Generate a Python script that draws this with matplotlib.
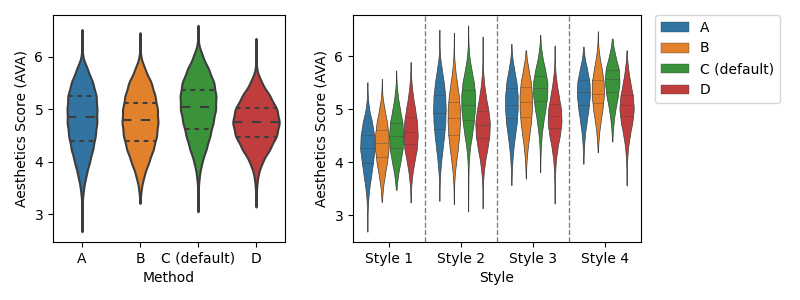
import numpy as np
import matplotlib
matplotlib.use("Agg")
import matplotlib.pyplot as plt
from matplotlib.patches import Rectangle

# ---------------- data ----------------
methods = ["A", "B", "C (default)", "D"]
styles = ["Style 1", "Style 2", "Style 3", "Style 4"]
colors = ["#3274a1", "#e1812c", "#3a923a", "#c03d3e"]

# score levels at which the violin density profiles were read
score_grid = [2.75, 3.0, 3.25, 3.5, 3.75, 4.0, 4.25, 4.5, 4.75, 5.0, 5.25, 5.5, 5.75, 6.0, 6.25, 6.5]

# ---- left panel: score distribution per method ----
method_density = {
    "A":           [0.05, 0.1, 0.3, 1.5, 4.0, 7.2, 10.5, 12.8, 14.3, 14.3, 13.8, 10.5, 5.5, 0.5, 0, 0],
    "B":           [0, 0, 0.1, 1.2, 4.0, 8.5, 13.0, 16.0, 17.3, 16.8, 14.5, 11.0, 5.0, 0.5, 0, 0],
    "C (default)": [0, 0.05, 0.1, 0.3, 1.3, 3.8, 8.0, 11.5, 14.5, 17.0, 17.3, 15.5, 10.5, 4.5, 0.3, 0],
    "D":           [0, 0, 0.1, 0.5, 1.8, 6.0, 13.5, 20.0, 22.7, 20.3, 13.5, 5.5, 0.5, 0, 0, 0],
}
method_range = {"A": (2.67, 6.52), "B": (3.21, 6.46), "C (default)": (3.05, 6.60), "D": (3.14, 6.35)}
method_quartiles = {"A": (4.39, 4.85, 5.25), "B": (4.40, 4.80, 5.13),
                    "C (default)": (4.63, 5.04, 5.37), "D": (4.48, 4.75, 5.02)}

# ---- right panel: score distribution per style and method ----
style1_density = {
    "A":           [0.05, 0.15, 0.6, 1.7, 3.6, 5.3, 7.0, 6.5, 4.5, 1.5, 0.3, 0, 0, 0, 0, 0],
    "B":           [0, 0, 0.1, 1.0, 2.8, 5.0, 6.5, 6.5, 5.0, 2.5, 0.5, 0, 0, 0, 0, 0],
    "C (default)": [0, 0, 0, 0.3, 1.6, 4.0, 6.2, 6.8, 6.0, 3.5, 1.5, 0.3, 0, 0, 0, 0],
    "D":           [0, 0, 0.05, 0.4, 1.5, 3.5, 6.0, 6.8, 6.2, 4.3, 2.2, 0.8, 0.2, 0, 0, 0],
}
style2_density = {
    "A":           [0, 0, 0.05, 0.2, 0.6, 1.6, 3.0, 4.5, 5.6, 6.0, 5.6, 4.2, 2.3, 0.5, 0.1, 0],
    "B":           [0, 0, 0.05, 0.2, 0.8, 2.2, 3.8, 5.2, 5.9, 5.8, 4.8, 3.0, 1.3, 0.3, 0.05, 0],
    "C (default)": [0, 0, 0.05, 0.15, 0.25, 0.5, 1.5, 3.5, 5.2, 6.5, 6.7, 5.5, 3.0, 1.0, 0.2, 0],
    "D":           [0, 0, 0.05, 0.2, 0.8, 2.2, 4.5, 6.5, 7.0, 5.3, 3.0, 1.3, 0.4, 0.1, 0, 0],
}
style3_density = {
    "A":           [0, 0, 0, 0.05, 0.3, 0.8, 1.8, 3.3, 5.0, 5.8, 5.8, 4.8, 2.5, 0.6, 0, 0],
    "B":           [0, 0, 0, 0, 0.1, 0.6, 1.6, 3.2, 4.8, 5.7, 5.8, 4.8, 2.5, 0.5, 0, 0],
    "C (default)": [0, 0, 0, 0, 0.05, 0.15, 0.5, 1.3, 2.8, 4.8, 6.5, 6.8, 4.5, 1.8, 0.3, 0],
    "D":           [0, 0, 0.05, 0.15, 0.4, 1.0, 2.5, 4.8, 6.5, 6.0, 3.8, 1.8, 0.5, 0.1, 0, 0],
}
style4_density = {
    "A":           [0, 0, 0, 0, 0, 0.1, 0.5, 1.3, 3.0, 4.8, 6.2, 6.0, 3.5, 0.8, 0, 0],
    "B":           [0, 0, 0, 0, 0, 0, 0.2, 1.0, 2.5, 4.5, 5.8, 5.8, 3.8, 1.5, 0.2, 0],
    "C (default)": [0, 0, 0, 0, 0, 0, 0.05, 0.3, 1.3, 3.0, 5.5, 7.0, 6.5, 3.0, 0.5, 0],
    "D":           [0, 0, 0, 0, 0.1, 0.4, 1.2, 3.0, 5.5, 7.0, 6.0, 3.5, 1.5, 0.3, 0, 0],
}
style_density = [style1_density, style2_density, style3_density, style4_density]

style1_range = {"A": (2.69, 5.51), "B": (3.25, 5.57), "C (default)": (3.48, 5.73), "D": (3.24, 5.89)}
style2_range = {"A": (3.27, 6.50), "B": (3.21, 6.44), "C (default)": (3.07, 6.58), "D": (3.13, 6.37)}
style3_range = {"A": (3.57, 6.23), "B": (3.69, 6.11), "C (default)": (3.81, 6.40), "D": (3.22, 6.20)}
style4_range = {"A": (3.97, 6.18), "B": (4.19, 6.47), "C (default)": (4.39, 6.33), "D": (3.56, 6.11)}
style_range = [style1_range, style2_range, style3_range, style4_range]

style1_quartiles = {"A": (3.98, 4.27, 4.52), "B": (4.10, 4.36, 4.61), "C (default)": (4.26, 4.49, 4.74), "D": (4.34, 4.57, 4.86)}
style2_quartiles = {"A": (4.63, 4.93, 5.27), "B": (4.52, 4.83, 5.14), "C (default)": (4.80, 5.07, 5.36), "D": (4.46, 4.71, 4.97)}
style3_quartiles = {"A": (4.84, 5.07, 5.39), "B": (4.85, 5.14, 5.41), "C (default)": (5.16, 5.39, 5.62), "D": (4.65, 4.88, 5.10)}
style4_quartiles = {"A": (5.07, 5.33, 5.55), "B": (5.12, 5.29, 5.55), "C (default)": (5.33, 5.57, 5.73), "D": (4.87, 5.08, 5.27)}
style_quartiles = [style1_quartiles, style2_quartiles, style3_quartiles, style4_quartiles]

# ---------------- helpers ----------------
GRAY = "#3d3d3d"
BW = 0.13


def profile(density, lo, hi, n=200):
    g = np.asarray(score_grid)
    w = np.asarray(density, dtype=float)
    y = np.linspace(lo, hi, n)
    f = (w[None, :] * np.exp(-0.5 * ((y[:, None] - g[None, :]) / BW) ** 2)).sum(axis=1)
    return y, f


def draw_violin(ax, center, y, half, color, quartiles, lw):
    ax.fill_betweenx(y, center - half, center + half, facecolor=color,
                     edgecolor=GRAY, linewidth=lw, zorder=2)
    dash_q = [lw * 1.5] * 2
    dash_m = [lw * 3] * 2
    for q, d in zip(quartiles, [dash_q, dash_m, dash_q]):
        idx = np.argmin(np.abs(y - q))
        wdt = half[idx] * 0.99
        ax.plot([center - wdt, center + wdt], [q, q], color=GRAY, linewidth=lw,
                dashes=d, solid_capstyle="butt", zorder=3)


fig = plt.figure(figsize=(8, 3), dpi=100)
ax1 = fig.add_axes([53 / 800, 58 / 300, 232 / 800, 227 / 300])
ax2 = fig.add_axes([353 / 800, 58 / 300, 288 / 800, 227 / 300])

# ---------------- left panel ----------------
profiles = [profile(method_density[m], *method_range[m]) for m in methods]
fmax = max(p[1].max() for p in profiles)
for i, (m, (y, f)) in enumerate(zip(methods, profiles)):
    half = 0.4 * f / fmax
    draw_violin(ax1, i, y, half, colors[i], method_quartiles[m], 1.5)
ax1.set_xlim(-0.5, len(methods) - 0.5)
ax1.set_xticks(range(len(methods)))
ax1.set_xticklabels(methods)
ax1.set_yticks([3, 4, 5, 6])
ax1.set_xlabel("Method")
ax1.set_ylabel("Aesthetics Score (AVA)")
ax1.margins(y=0.05)

# ---------------- right panel ----------------
n_h = len(methods)
vw = 0.8 / n_h
for s in range(len(styles)):
    profs = [profile(style_density[s][m], *style_range[s][m]) for m in methods]
    gmax = max(p[1].max() for p in profs)
    for j, (m, (y, f)) in enumerate(zip(methods, profs)):
        center = s - 0.4 + vw / 2 + j * vw
        half = (vw / 2) * f / gmax
        draw_violin(ax2, center, y, half, colors[j], style_quartiles[s][m], 0.5)
for xv in np.arange(0.5, len(styles) - 0.5, 1.0):
    ax2.axvline(xv, color="gray", linestyle="--", linewidth=1, zorder=1)
ax2.set_xlim(-0.5, len(styles) - 0.5)
ax2.set_xticks(range(len(styles)))
ax2.set_xticklabels(styles)
ax2.set_yticks([3, 4, 5, 6])
ax2.set_xlabel("Style")
ax2.set_ylabel("Aesthetics Score (AVA)")
ax2.margins(y=0.05)

handles = [Rectangle((0, 0), 0, 0, facecolor=c, edgecolor=GRAY, linewidth=0.25) for c in colors]
ax2.legend(handles, methods, loc="upper left", bbox_to_anchor=(1.05, 1), borderaxespad=0)

fig.savefig("out.png", dpi=100)
